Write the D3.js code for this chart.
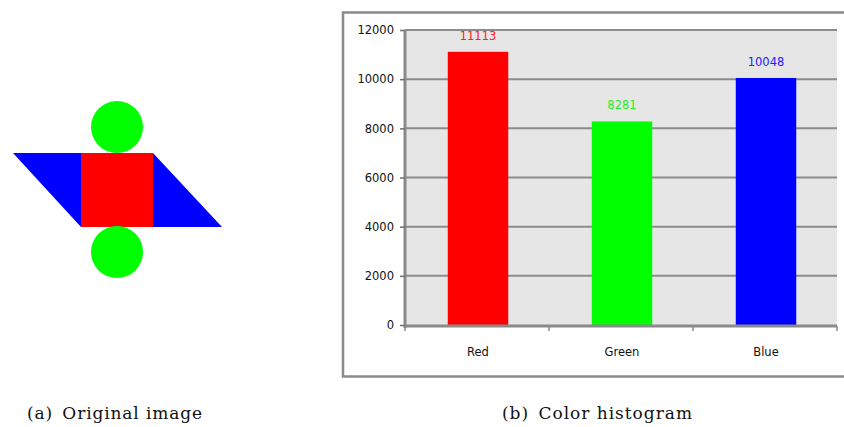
<!DOCTYPE html>
<html><head><meta charset="utf-8">
<script src="https://cdn.jsdelivr.net/npm/d3@7"></script>
<style>
html,body{margin:0;padding:0;background:#fff;}
svg{display:block;}
</style></head>
<body>
<svg id="c" width="844" height="427"></svg>
<script>
const categories = ["Red", "Green", "Blue"];
const values = [11113, 8281, 10048];
const barColors = ["#ff0000", "#00ff00", "#0000ff"];
const labelColors = ["#ff2020", "#22ee22", "#2020ff"];
const yTicks = [0, 2000, 4000, 6000, 8000, 10000, 12000];
const captions = ["(a)\u2002Original image", "(b)\u2002Color histogram"];

const svg = d3.select("#c");

// ---- (a) original image illustration ----
const img = svg.append("g");
img.append("polygon").attr("points", "13,153 153,153 222,227 81,227").attr("fill", "#0000ff");
img.append("rect").attr("x", 81).attr("y", 153).attr("width", 72).attr("height", 74).attr("fill", "#ff0000");
img.append("circle").attr("cx", 117).attr("cy", 127).attr("r", 26).attr("fill", "#00ff00");
img.append("circle").attr("cx", 117).attr("cy", 252).attr("r", 26).attr("fill", "#00ff00");

// ---- (b) histogram ----
svg.append("rect").attr("x", 343).attr("y", 12.5).attr("width", 510).attr("height", 364)
  .attr("fill", "#fff").attr("stroke", "#8a8a8a").attr("stroke-width", 2.5);

const L = 405, R = 837, T = 30, B = 325;
const x = d3.scaleBand().domain(categories).range([L, R]).paddingInner(0.58).paddingOuter(0.29);
const y = d3.scaleLinear().domain([0, 12000]).range([B, T]);

svg.append("rect").attr("x", L).attr("y", T).attr("width", R - L).attr("height", B - T).attr("fill", "#e6e6e6");

// gridlines
svg.append("g").selectAll("line").data(yTicks.filter(d => d > 0)).join("line")
  .attr("x1", L).attr("x2", R).attr("y1", d => y(d)).attr("y2", d => y(d))
  .attr("stroke", "#8c8c8c").attr("stroke-width", 2);

// bars
svg.append("g").selectAll("rect").data(values).join("rect")
  .attr("x", (d, i) => x(categories[i]) + 1).attr("width", x.bandwidth())
  .attr("y", d => y(d)).attr("height", d => B - y(d))
  .attr("fill", (d, i) => barColors[i]);

// data labels
svg.append("g").selectAll("text").data(values).join("text")
  .attr("x", (d, i) => x(categories[i]) + 1 + x.bandwidth() / 2)
  .attr("y", d => y(d) - 12)
  .attr("text-anchor", "middle")
  .attr("font-family", "DejaVu Sans, sans-serif").attr("font-size", 11.5)
  .attr("fill", (d, i) => labelColors[i])
  .text(d => d);

// y axis
const yAxis = svg.append("g").attr("transform", `translate(${L},0)`)
  .call(d3.axisLeft(y).tickValues(yTicks).tickFormat(d3.format("d")).tickSize(5).tickPadding(6));
yAxis.select(".domain").attr("stroke", "#8a8a8a").attr("stroke-width", 3).attr("d", `M0,${T}V${B + 3}`);
yAxis.selectAll(".tick line").attr("stroke", "#707070").attr("stroke-width", 1.5);
yAxis.selectAll(".tick text").attr("font-family", "DejaVu Sans, sans-serif").attr("font-size", 11.5).attr("fill", "#111");

// x axis
const xb = d3.scalePoint().domain([0, 1, 2, 3]).range([L, R]);
const xg = svg.append("g");
xg.append("line").attr("x1", L).attr("x2", R).attr("y1", B + 1).attr("y2", B + 1)
  .attr("stroke", "#8a8a8a").attr("stroke-width", 3);
xg.selectAll(".tk").data(xb.domain()).join("line").attr("class", "tk")
  .attr("x1", d => xb(d)).attr("x2", d => xb(d)).attr("y1", B + 1).attr("y2", B + 6)
  .attr("stroke", "#8a8a8a").attr("stroke-width", 1.5);
xg.selectAll("text").data(categories).join("text")
  .attr("x", d => x(d) + 1 + x.bandwidth() / 2).attr("y", 356)
  .attr("text-anchor", "middle")
  .attr("font-family", "DejaVu Sans, sans-serif").attr("font-size", 11.5).attr("fill", "#111")
  .text(d => d);

// captions
svg.selectAll(".cap").data(captions).join("text").attr("class", "cap")
  .attr("x", (d, i) => i === 0 ? 27 : 502).attr("y", 419)
  .attr("textLength", (d, i) => i === 0 ? 175 : 190).attr("lengthAdjust", "spacing")
  .attr("font-family", "DejaVu Serif, Liberation Serif, serif").attr("font-size", 17)
  .attr("fill", "#111")
  .text(d => d);
</script>
</body></html>
